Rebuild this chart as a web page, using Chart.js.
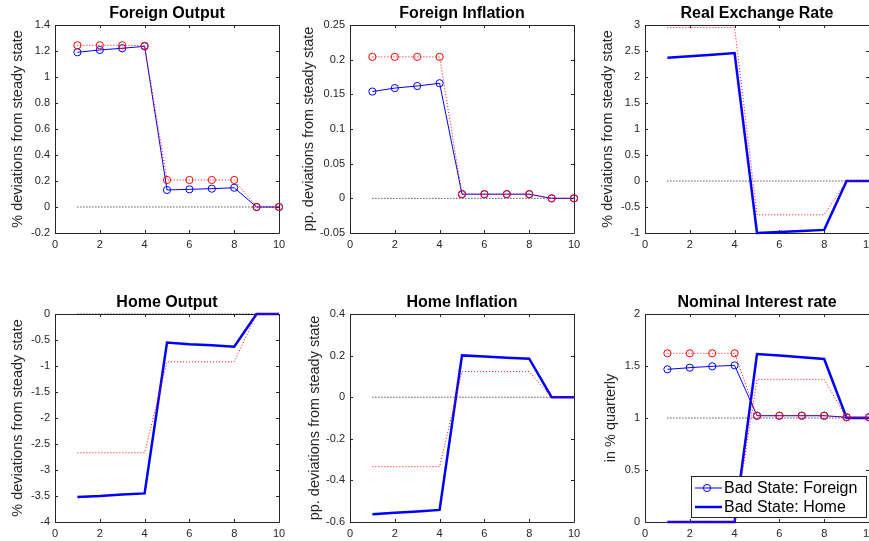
<!DOCTYPE html>
<html>
<head>
<meta charset="utf-8">
<script src="https://cdn.jsdelivr.net/npm/chart.js@4.4.0/dist/chart.umd.min.js"></script>
<style>
  html, body { margin: 0; padding: 0; background: #fff; }
  #wrap { position: relative; width: 869px; height: 541px; overflow: hidden; }
  canvas { position: absolute; }
</style>
</head>
<body>
<div id="wrap">
  <canvas id="c1"></canvas>
  <canvas id="c2"></canvas>
  <canvas id="c3"></canvas>
  <canvas id="c4"></canvas>
  <canvas id="c5"></canvas>
  <canvas id="c6"></canvas>
</div>
<script>
//DATA
const periods = [1, 2, 3, 4, 5, 6, 7, 8, 9, 10];

//Foreign Output
const foreignOutput_badForeign = [1.19, 1.208, 1.221, 1.236, 0.131, 0.136, 0.141, 0.148, 0, 0];
const foreignOutput_altForeign = [1.244, 1.244, 1.244, 1.24, 0.208, 0.208, 0.208, 0.208, 0, 0];
//Foreign Inflation
const foreignInfl_badForeign = [0.154, 0.159, 0.162, 0.166, 0.006, 0.006, 0.006, 0.006, 0, 0];
const foreignInfl_altForeign = [0.204, 0.204, 0.204, 0.204, 0.006, 0.006, 0.006, 0.006, 0, 0];
//Real Exchange Rate
const rer_badHome = [2.37, 2.40, 2.43, 2.46, -1.0, -0.98, -0.96, -0.94, 0, 0];
const rer_altHome = [2.95, 2.95, 2.95, 2.95, -0.65, -0.65, -0.65, -0.65, 0, 0];
//Home Output
const homeOutput_badHome = [-3.52, -3.50, -3.47, -3.45, -0.55, -0.58, -0.60, -0.63, 0, 0];
const homeOutput_altHome = [-2.67, -2.67, -2.67, -2.67, -0.92, -0.92, -0.92, -0.92, 0, 0];
//Home Inflation
const homeInfl_badHome = [-0.563, -0.556, -0.549, -0.542, 0.201, 0.196, 0.19, 0.185, 0, 0];
const homeInfl_altHome = [-0.334, -0.334, -0.334, -0.334, 0.123, 0.123, 0.123, 0.123, 0, 0];
//Nominal Interest rate
const rate_badForeign = [1.468, 1.484, 1.497, 1.506, 1.022, 1.022, 1.022, 1.022, 1.007, 1.007];
const rate_altForeign = [1.622, 1.622, 1.622, 1.622, 1.022, 1.022, 1.022, 1.022, 1.007, 1.007];
const rate_badHome = [0, 0, 0, 0, 1.615, 1.6, 1.584, 1.567, 1.0, 1.0];
const rate_altHome = [0, 0, 0, 0, 1.372, 1.372, 1.372, 1.372, 1.0, 1.0];
//Steady states
const steady_zero = [0, 0, 0, 0, 0, 0, 0, 0, 0, 0];
const steady_rate = [1, 1, 1, 1, 1, 1, 1, 1, 1, 1];

const xTicks = [0, 2, 4, 6, 8, 10];

Chart.defaults.font.family = "'Liberation Sans', Arial, Helvetica, sans-serif";

function ToXY(_values){
    return _values.map((v, i) => ({x: periods[i], y: v}));
}

//series styles
function BadForeign(_values){
    return {label: 'Bad State: Foreign', data: ToXY(_values), borderColor: '#0000ff', borderWidth: 1, clip: false,
        pointRadius: 3.6, pointBorderWidth: 1, pointBorderColor: '#0000ff', pointBackgroundColor: 'rgba(0,0,0,0)', order: 1};
}
function AltForeign(_values){
    return {label: 'Alt: Foreign', data: ToXY(_values), borderColor: '#ff0000', borderWidth: 1, borderDash: [1, 2], clip: false,
        pointRadius: 3.6, pointBorderWidth: 1, pointBorderColor: '#ff0000', pointBackgroundColor: 'rgba(0,0,0,0)', order: 0};
}
function BadHome(_values){
    return {label: 'Bad State: Home', data: ToXY(_values), borderColor: '#0000ff', borderWidth: 2.5, pointRadius: 0, clip: false, order: 1};
}
function AltHome(_values){
    return {label: 'Alt: Home', data: ToXY(_values), borderColor: '#ff0000', borderWidth: 1, borderDash: [1, 2], pointRadius: 0, clip: false, order: 0};
}
function Steady(_values){
    return {label: 'Steady state', data: ToXY(_values), borderColor: '#000000', borderWidth: 1, borderDash: [1, 2], pointRadius: 0, clip: false, order: 2};
}

//box + inward ticks, matlab style
const matlabAxes = {
    id: 'matlabAxes',
    beforeDatasetsDraw(chart){
        const {ctx, chartArea: a, scales: {x, y}} = chart;
        const tl = 3;
        ctx.save();
        ctx.strokeStyle = '#262626';
        ctx.lineWidth = 1;
        ctx.beginPath();
        ctx.rect(a.left + 0.5, a.top + 0.5, a.right - a.left, a.bottom - a.top);
        x.ticks.forEach(t => {
            const px = Math.round(x.getPixelForValue(t.value)) + 0.5;
            ctx.moveTo(px, a.bottom); ctx.lineTo(px, a.bottom - tl);
            ctx.moveTo(px, a.top); ctx.lineTo(px, a.top + tl);
        });
        y.ticks.forEach(t => {
            const py = Math.round(y.getPixelForValue(t.value)) + 0.5;
            ctx.moveTo(a.left, py); ctx.lineTo(a.left + tl, py);
            ctx.moveTo(a.right, py); ctx.lineTo(a.right - tl, py);
        });
        ctx.stroke();
        ctx.restore();
    }
};

//legend drawn inside the plot, bottom right
const legendBox = {
    id: 'legendBox',
    afterDraw(chart, args, opts){
        if (!opts.items || !opts.items.length) return;
        const {ctx, chartArea: a} = chart;
        const w = 175, h = 41;
        const left = a.right - 3 - w;
        const top = a.bottom - 5 - h;
        ctx.save();
        ctx.fillStyle = '#ffffff';
        ctx.fillRect(left, top, w, h);
        ctx.strokeStyle = '#262626';
        ctx.lineWidth = 1;
        ctx.strokeRect(left + 0.5, top + 0.5, w, h);
        opts.items.forEach((idx, i) => {
            const ds = chart.data.datasets[idx];
            const cy = top + 12 + i * 19;
            ctx.strokeStyle = ds.borderColor;
            ctx.lineWidth = ds.borderWidth;
            ctx.setLineDash([]);
            ctx.beginPath();
            ctx.moveTo(left + 4, cy);
            ctx.lineTo(left + 31, cy);
            ctx.stroke();
            if (ds.pointRadius){
                ctx.lineWidth = 1;
                ctx.beginPath();
                ctx.arc(left + 16, cy, ds.pointRadius, 0, Math.PI * 2);
                ctx.stroke();
            }
            ctx.fillStyle = '#000000';
            ctx.font = "16px 'Liberation Sans', Arial, sans-serif";
            ctx.textBaseline = 'middle';
            ctx.fillText(ds.label, left + 33, cy + 1);
        });
        ctx.restore();
    }
};

function MakePanel(p){
    const canvas = document.getElementById(p.id);
    canvas.width = p.w;
    canvas.height = p.h;
    canvas.style.left = p.left + 'px';
    canvas.style.top = p.top + 'px';
    const topRow = p.top === 0;

    return new Chart(canvas, {
        type: 'line',
        data: {datasets: p.datasets},
        options: {
            responsive: false,
            animation: false,
            devicePixelRatio: 1,
            layout: {autoPadding: false, padding: {left: 0, right: p.w - p.plotRight, top: 0, bottom: 0}},
            plugins: {
                legend: {display: false},
                tooltip: {enabled: false},
                title: {
                    display: true, text: p.title, fullSize: false, color: '#000000',
                    font: {size: 16, weight: 'bold'}, padding: {top: 4.4, bottom: 1.4}
                },
                legendBox: {items: p.legendItems || []}
            },
            scales: {
                x: {
                    type: 'linear', min: 0, max: 10,
                    grid: {display: false, drawTicks: false, tickLength: 0}, border: {display: false},
                    afterBuildTicks: s => { s.ticks = xTicks.map(v => ({value: v})); },
                    ticks: {color: '#262626', font: {size: 11}, padding: 5.4, maxRotation: 0, autoSkip: false},
                    afterFit: s => { s.height = topRow ? 37 : 19; s.paddingLeft = 0; s.paddingRight = 0; }
                },
                y: {
                    type: 'linear', min: p.yMin, max: p.yMax,
                    grid: {display: false, drawTicks: false, tickLength: 0}, border: {display: false},
                    title: {display: true, text: p.yTitle, color: '#262626', font: {size: 14.5}, padding: {top: p.yTitleX - 8.7, bottom: 0}},
                    ticks: {stepSize: p.yStep, color: '#262626', font: {size: 11}, padding: 5,
                        callback: v => String(Number(v.toFixed(4)))},
                    afterFit: s => { s.width = p.plotLeft; s.paddingTop = 0; s.paddingBottom = 0; }
                }
            }
        },
        plugins: [matlabAxes, legendBox]
    });
}

//panels
MakePanel({id: 'c1', left: 0, top: 0, w: 290, h: 270, plotLeft: 55, plotRight: 279, yTitleX: 17.5,
    title: 'Foreign Output', yTitle: '% deviations from steady state', yMin: -0.2, yMax: 1.4, yStep: 0.2,
    datasets: [Steady(steady_zero), BadForeign(foreignOutput_badForeign), AltForeign(foreignOutput_altForeign)]});

MakePanel({id: 'c2', left: 290, top: 0, w: 290, h: 270, plotLeft: 60, plotRight: 284, yTitleX: 18.8,
    title: 'Foreign Inflation', yTitle: 'pp. deviations from steady state', yMin: -0.05, yMax: 0.25, yStep: 0.05,
    datasets: [Steady(steady_zero), BadForeign(foreignInfl_badForeign), AltForeign(foreignInfl_altForeign)]});

MakePanel({id: 'c3', left: 580, top: 0, w: 289, h: 270, plotLeft: 65, plotRight: 289, yTitleX: 27.5,
    title: 'Real Exchange Rate', yTitle: '% deviations from steady state', yMin: -1, yMax: 3, yStep: 0.5,
    datasets: [Steady(steady_zero), BadHome(rer_badHome), AltHome(rer_altHome)]});

MakePanel({id: 'c4', left: 0, top: 289, w: 290, h: 252, plotLeft: 55, plotRight: 279, yTitleX: 17.8,
    title: 'Home Output', yTitle: '% deviations from steady state', yMin: -4, yMax: 0, yStep: 0.5,
    datasets: [Steady(steady_zero), BadHome(homeOutput_badHome), AltHome(homeOutput_altHome)]});

MakePanel({id: 'c5', left: 290, top: 289, w: 290, h: 252, plotLeft: 60, plotRight: 284, yTitleX: 25,
    title: 'Home Inflation', yTitle: 'pp. deviations from steady state', yMin: -0.6, yMax: 0.4, yStep: 0.2,
    datasets: [Steady(steady_zero), BadHome(homeInfl_badHome), AltHome(homeInfl_altHome)]});

MakePanel({id: 'c6', left: 580, top: 289, w: 289, h: 252, plotLeft: 65, plotRight: 289, yTitleX: 31,
    title: 'Nominal Interest rate', yTitle: 'in % quarterly', yMin: 0, yMax: 2, yStep: 0.5,
    datasets: [Steady(steady_rate), BadForeign(rate_badForeign), AltForeign(rate_altForeign), BadHome(rate_badHome), AltHome(rate_altHome)],
    legendItems: [1, 3]});
</script>
</body>
</html>
